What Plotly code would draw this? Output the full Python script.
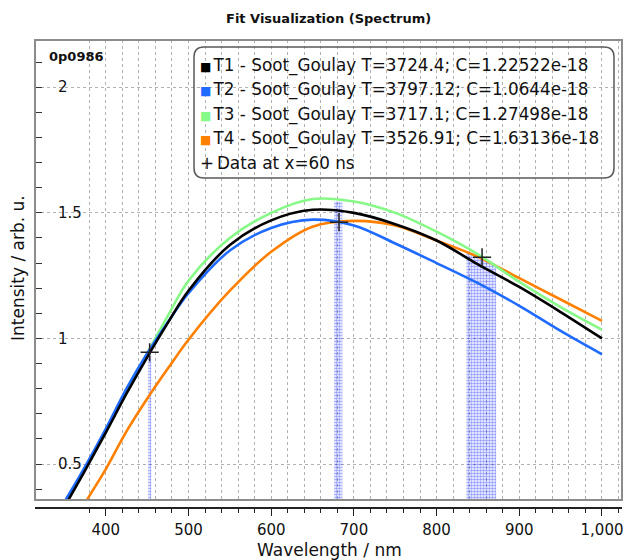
import plotly.graph_objects as go

# ---------------- data ----------------
wavelength = [350, 375, 400, 425, 450, 475, 500, 550, 600, 650, 700, 750, 800, 850, 900, 950, 1000]
t1_black = [0.33, 0.475, 0.625, 0.78, 0.925, 1.062, 1.19, 1.372, 1.47, 1.512, 1.50, 1.455, 1.39, 1.295, 1.205, 1.105, 1.0]
t2_blue = [0.35, 0.49, 0.64, 0.80, 0.94, 1.065, 1.18, 1.35, 1.44, 1.473, 1.45, 1.378, 1.30, 1.22, 1.13, 1.03, 0.937]
t3_green = [0.34, 0.485, 0.633, 0.79, 0.94, 1.09, 1.23, 1.40, 1.50, 1.555, 1.545, 1.50, 1.425, 1.335, 1.225, 1.125, 1.035]
t4_orange = [0.20, 0.345, 0.48, 0.63, 0.76, 0.88, 0.995, 1.19, 1.345, 1.445, 1.468, 1.45, 1.39, 1.325, 1.24, 1.155, 1.07]

data_x = [453, 682, 855]
data_y = [0.945, 1.463, 1.323]

band_lo = [451, 676, 836]
band_hi = [455, 686, 872]
band_top_lo = [0.93, 1.545, 1.345]
band_top_hi = [0.93, 1.545, 1.29]

legend_labels = [
    "T1 - Soot_Goulay T=3724.4; C=1.22522e-18",
    "T2 - Soot_Goulay T=3797.12; C=1.0644e-18",
    "T3 - Soot_Goulay T=3717.1; C=1.27498e-18",
    "T4 - Soot_Goulay T=3526.91; C=1.63136e-18",
]
data_label = "Data at x=60 ns"
colors = ["#000000", "#1F6BFF", "#86F986", "#FF8000"]

x_tickvals = [400, 500, 600, 700, 800, 900, 1000]
x_ticktext = ["400", "500", "600", "700", "800", "900", "1,000"]
y_tickvals = [0.5, 1, 1.5, 2]
y_ticktext = ["0.5", "1", "1.5", "2"]

# ---------------- layout geometry ----------------
W, H = 627, 560
ML, MR, MT, MB = 35, 5, 40, 52
PW, PH = W - ML - MR, H - MT - MB
FRAME_BOTTOM = 500


def px(xp):
    return (xp - ML) / PW


def py(yp):
    return (H - MB - yp) / PH


FONT = "DejaVu Sans"

fig = go.Figure()

# filter bands
for lo, hi, tl, th in zip(band_lo, band_hi, band_top_lo, band_top_hi):
    fig.add_trace(go.Scatter(
        x=[lo, lo, hi, hi, lo], y=[0, tl, th, 0, 0],
        mode="lines", fill="toself", line=dict(width=0, color="rgba(0,0,0,0)"),
        fillcolor="rgba(0,0,0,0)",
        fillpattern=dict(shape=".", fgcolor="#2a3cff", bgcolor="rgba(0,0,0,0)", size=3, solidity=0.55),
        showlegend=False, hoverinfo="skip"))

series = [t1_black, t2_blue, t3_green, t4_orange]
for i in [3, 2, 1, 0]:
    fig.add_trace(go.Scatter(
        x=wavelength, y=series[i], mode="lines", line=dict(color=colors[i], width=2.6, shape="spline", smoothing=1.0),
        name=legend_labels[i], showlegend=False))

fig.add_trace(go.Scatter(
    x=data_x, y=data_y, mode="markers",
    marker=dict(symbol="cross-thin", size=13, line=dict(color="#222222", width=1.5)),
    name=data_label, showlegend=False))

shapes = []
# plot frame
shapes.append(dict(type="rect", xref="paper", yref="paper", x0=0, x1=1, y0=py(FRAME_BOTTOM), y1=1,
                   line=dict(color="#8c8c8c", width=2), layer="above"))

# legend box with rounded corners
lx0, lx1, ly0, ly1, r = px(194), px(614), py(178), py(47), 10
rx, ry = r / PW, r / PH
path = (f"M {lx0+rx},{ly1} L {lx1-rx},{ly1} Q {lx1},{ly1} {lx1},{ly1-ry} "
        f"L {lx1},{ly0+ry} Q {lx1},{ly0} {lx1-rx},{ly0} L {lx0+rx},{ly0} "
        f"Q {lx0},{ly0} {lx0},{ly0+ry} L {lx0},{ly1-ry} Q {lx0},{ly1} {lx0+rx},{ly1} Z")
shapes.append(dict(type="path", xref="paper", yref="paper", path=path,
                   line=dict(color="#5a5a5a", width=1.5), fillcolor="rgba(255,255,255,0)"))

annotations = []
row_y = [65, 89.5, 114, 138.5, 163]
for i, lab in enumerate(legend_labels):
    annotations.append(dict(
        xref="paper", yref="paper", x=px(198), y=py(row_y[i]), xanchor="left", yanchor="middle",
        text=f'<span style="color:{colors[i]};font-size:12px">■</span><span style="font-size:7px"> </span>{lab}',
        showarrow=False, font=dict(family=FONT, size=16.8, color="#111111")))
annotations.append(dict(
    xref="paper", yref="paper", x=px(198), y=py(row_y[4]), xanchor="left", yanchor="middle",
    text=f'+<span style="font-size:9px"> </span>{data_label}', showarrow=False,
    font=dict(family=FONT, size=16.8, color="#111111")))

annotations.append(dict(xref="paper", yref="paper", x=px(47), y=py(57), xanchor="left", yanchor="middle",
                        text="<b>0p0986</b>", showarrow=False, font=dict(family=FONT, size=13, color="#111111")))
annotations.append(dict(xref="paper", yref="paper", x=px(330), y=py(550), xanchor="center", yanchor="middle",
                        text="Wavelength / nm", showarrow=False, font=dict(family=FONT, size=17, color="#111111")))
annotations.append(dict(xref="paper", yref="paper", x=px(18), y=py(268), xanchor="center", yanchor="middle",
                        text="Intensity / arb. u.", textangle=-90, showarrow=False,
                        font=dict(family=FONT, size=17, color="#111111")))
annotations.append(dict(xref="paper", yref="paper", x=px(329), y=py(19), xanchor="center", yanchor="middle",
                        text="<b>Fit Visualization (Spectrum)</b>", showarrow=False,
                        font=dict(family=FONT, size=13, color="#111111")))

fig.update_layout(
    width=W, height=H, margin=dict(l=ML, r=MR, t=MT, b=MB),
    paper_bgcolor="white", plot_bgcolor="white",
    showlegend=False,
    shapes=shapes, annotations=annotations,
    xaxis=dict(range=[314.4, 1024.2], anchor="free", position=0,
               tickvals=x_tickvals, ticktext=x_ticktext,
               ticks="outside", ticklen=7, tickcolor="#222222", tickwidth=1.3,
               showline=True, linecolor="#222222", linewidth=1.5,
               showgrid=True, gridcolor="#b0b0b0", griddash="dot", gridwidth=1,
               minor=dict(dtick=20, tick0=0, ticks="outside", ticklen=4, tickcolor="#222222",
                          showgrid=True, gridcolor="#b0b0b0", griddash="dot", gridwidth=1),
               zeroline=False, ticklabelstandoff=1,
               tickfont=dict(family=FONT, size=15, color="#111111")),
    yaxis=dict(range=[0.357, 2.188], domain=[py(FRAME_BOTTOM), 1],
               tickvals=y_tickvals, ticktext=y_ticktext, tickprefix="\u00a0",
               ticks="inside", ticklen=7, tickcolor="#333333", ticklabelposition="inside",
               ticklabelstandoff=16,
               showline=False, showgrid=True, gridcolor="#b0b0b0", griddash="dot", gridwidth=1,
               minor=dict(dtick=0.1, tick0=0, ticks="inside", ticklen=7, tickcolor="#333333", showgrid=False),
               zeroline=False, tickfont=dict(family=FONT, size=15, color="#111111")),
)

fig.write_html("out.html")
